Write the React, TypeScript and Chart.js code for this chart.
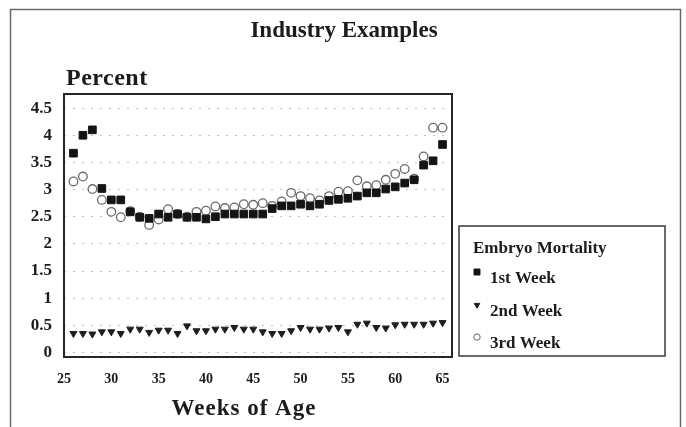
import React, { useEffect, useRef } from 'react';
import { Chart, registerables } from 'chart.js';
import { drawPoint } from 'chart.js/helpers';

Chart.register(...registerables);

const chartTitle = 'Industry Examples';
const yAxisTitle = 'Percent';
const xAxisTitle = 'Weeks of Age';
const legendTitle = 'Embryo Mortality';
const seriesLabels = ['1st Week', '2nd Week', '3rd Week'];

const weeks = [
  26, 27, 28, 29, 30, 31, 32, 33, 34, 35, 36, 37, 38, 39, 40, 41, 42, 43, 44, 45,
  46, 47, 48, 49, 50, 51, 52, 53, 54, 55, 56, 57, 58, 59, 60, 61, 62, 63, 64, 65,
];

const firstWeek = [
  3.67, 4.0, 4.1, 3.02, 2.81, 2.81, 2.59, 2.49, 2.47, 2.55, 2.49, 2.55, 2.49, 2.49, 2.46, 2.5, 2.55, 2.55, 2.55, 2.55,
  2.55, 2.65, 2.7, 2.7, 2.73, 2.7, 2.73, 2.8, 2.82, 2.84, 2.88, 2.94, 2.94, 3.01, 3.05, 3.12, 3.18, 3.45, 3.53, 3.83,
];

const secondWeek = [
  0.35, 0.35, 0.34, 0.38, 0.38, 0.35, 0.43, 0.43, 0.37, 0.41, 0.41, 0.35, 0.49, 0.4, 0.4, 0.43, 0.43, 0.46, 0.43, 0.43,
  0.38, 0.35, 0.35, 0.4, 0.46, 0.43, 0.43, 0.45, 0.46, 0.38, 0.52, 0.54, 0.46, 0.45, 0.51, 0.52, 0.52, 0.52, 0.54, 0.55,
];

const thirdWeek = [
  3.15, 3.24, 3.01, 2.81, 2.59, 2.49, 2.6, 2.5, 2.35, 2.45, 2.64, 2.55, 2.5, 2.59, 2.61, 2.69, 2.66, 2.67, 2.73, 2.72,
  2.75, 2.7, 2.78, 2.94, 2.88, 2.84, 2.8, 2.88, 2.96, 2.97, 3.17, 3.06, 3.08, 3.18, 3.29, 3.38, 3.2, 3.61, 4.14, 4.14,
];

const xTickValues = [25, 30, 35, 40, 45, 50, 55, 60, 65];
const yTickValues = [0, 0.5, 1, 1.5, 2, 2.5, 3, 3.5, 4, 4.5];

const SERIF = "'Liberation Serif', 'DejaVu Serif', serif";
const TEXT = '#1c1c1c';

const decorations = {
  id: 'decorations',
  beforeDraw(chart: any) {
    const ctx = chart.ctx;
    ctx.save();
    ctx.fillStyle = '#ffffff';
    ctx.fillRect(0, 0, chart.width, chart.height);
    ctx.strokeStyle = '#6a6a6a';
    ctx.lineWidth = 1.5;
    ctx.strokeRect(10.5, 9.5, 670, 440);
    ctx.restore();
  },
  beforeDatasetsDraw(chart: any) {
    const ctx = chart.ctx;
    const a = chart.chartArea;
    ctx.save();
    ctx.strokeStyle = '#262626';
    ctx.lineWidth = 2;
    ctx.strokeRect(a.left, a.top, a.right - a.left, a.bottom - a.top);
    ctx.restore();
  },
  afterDraw(chart: any) {
    const ctx = chart.ctx;
    const a = chart.chartArea;
    ctx.save();
    ctx.fillStyle = TEXT;
    ctx.textBaseline = 'alphabetic';

    ctx.font = `bold 23px ${SERIF}`;
    ctx.textAlign = 'center';
    ctx.fillText(chartTitle, 344, 37);

    ctx.font = `bold 24px ${SERIF}`;
    ctx.textAlign = 'left';
    (ctx as any).letterSpacing = '0.5px';
    ctx.fillText(yAxisTitle, 66, 85);

    ctx.font = `bold 23px ${SERIF}`;
    (ctx as any).letterSpacing = '1px';
    ctx.textAlign = 'center';
    ctx.fillText(xAxisTitle, (a.left + a.right) / 2 - 14, 415);
    (ctx as any).letterSpacing = '0px';

    // legend box
    const lx = 459, ly = 226, lw = 206, lh = 130;
    ctx.strokeStyle = '#3a3a3a';
    ctx.lineWidth = 1.5;
    ctx.strokeRect(lx, ly, lw, lh);
    ctx.textAlign = 'left';
    ctx.font = `bold 17px ${SERIF}`;
    ctx.fillText(legendTitle, lx + 14, ly + 27);

    const rows = [283, 316, 348];
    chart.data.datasets.forEach((ds: any, i: number) => {
      const y = rows[i];
      ctx.fillStyle = TEXT;
      ctx.font = `bold 17px ${SERIF}`;
      ctx.fillText(ds.label, lx + 31, y);
      ctx.fillStyle = ds.backgroundColor;
      ctx.strokeStyle = ds.borderColor;
      ctx.lineWidth = 1;
      drawPoint(ctx, {
        pointStyle: ds.pointStyle,
        rotation: ds.rotation || 0,
        radius: ds.pointStyle === 'rect' ? 4.2 : 3.2,
        borderWidth: 1,
      } as any, lx + 18, y - 11);
    });
    ctx.restore();
  },
};

export default function App() {
  const canvasRef = useRef<HTMLCanvasElement | null>(null);

  useEffect(() => {
    const canvas = canvasRef.current;
    if (!canvas) return;
    const toPoints = (vals: number[]) => weeks.map((w, i) => ({ x: w, y: vals[i] }));
    const chart = new Chart(canvas, {
      type: 'scatter',
      data: {
        datasets: [
          {
            label: seriesLabels[0],
            data: toPoints(firstWeek),
            pointStyle: 'rect',
            pointRadius: 5.4,
            backgroundColor: '#141414',
            borderColor: '#141414',
            borderWidth: 1,
          },
          {
            label: seriesLabels[1],
            data: toPoints(secondWeek),
            pointStyle: 'triangle',
            rotation: 180,
            pointRadius: 4,
            backgroundColor: '#1e1e1e',
            borderColor: '#1e1e1e',
            borderWidth: 1,
          },
          {
            label: seriesLabels[2],
            data: toPoints(thirdWeek),
            pointStyle: 'circle',
            pointRadius: 4.3,
            backgroundColor: '#ffffff',
            borderColor: '#6a6a6a',
            borderWidth: 1.3,
          },
        ],
      } as any,
      options: {
        responsive: false,
        animation: false,
        events: [],
        layout: { padding: { left: 0, top: 94, right: 234, bottom: 0 } },
        plugins: {
          legend: { display: false },
          title: { display: false },
          tooltip: { enabled: false },
        },
        scales: {
          x: {
            type: 'linear',
            min: 25,
            max: 66,
            afterBuildTicks: (s: any) => {
              s.ticks = xTickValues.map((v) => ({ value: v }));
            },
            afterFit: (s: any) => {
              s.height = 70;
            },
            grid: { display: false, drawTicks: false },
            border: { display: false },
            ticks: {
              padding: 14,
              color: TEXT,
              font: { family: SERIF, size: 14, weight: 'bold' },
              maxRotation: 0,
              autoSkip: false,
              callback: (v: any) => String(v),
            },
          },
          y: {
            type: 'linear',
            min: -0.083,
            max: 4.76,
            afterBuildTicks: (s: any) => {
              s.ticks = yTickValues.map((v) => ({ value: v }));
            },
            afterFit: (s: any) => {
              s.width = 64;
            },
            grid: { color: '#c2c2c2', lineWidth: 1, drawTicks: false },
            border: { display: false, dash: [2, 7] },
            ticks: {
              padding: 12,
              color: TEXT,
              font: { family: SERIF, size: 17, weight: 'bold' },
              autoSkip: false,
              callback: (v: any) => String(v),
            },
          },
        },
      } as any,
      plugins: [decorations],
    });
    return () => chart.destroy();
  }, []);

  return (
    <div style={{ position: 'absolute', left: 0, top: 0, width: 686, height: 427 }}>
      <canvas ref={canvasRef} width={686} height={427} />
    </div>
  );
}
